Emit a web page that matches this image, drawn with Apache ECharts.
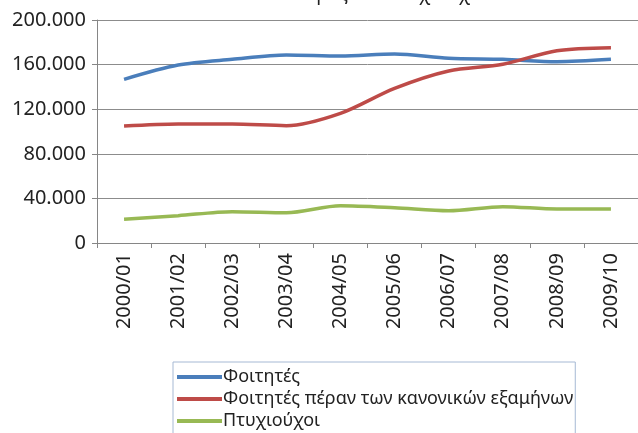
<!DOCTYPE html>
<html>
<head>
<meta charset="utf-8">
<script src="https://cdn.jsdelivr.net/npm/echarts@6/dist/echarts.min.js"></script>
<style>
  html, body { margin: 0; padding: 0; background: #fff; }
  #chart { width: 638px; height: 433px; }
</style>
</head>
<body>
<div id="chart"></div>
<script>
var years = ['2000/01', '2001/02', '2002/03', '2003/04', '2004/05',
             '2005/06', '2006/07', '2007/08', '2008/09', '2009/10'];
var students = [146800, 159600, 164700, 168600, 167700, 169500, 165600, 164700, 162600, 164700];
var overdue = [104900, 106700, 106700, 105200, 116300, 138700, 154300, 160300, 172500, 175200];
var graduates = [21200, 24500, 28100, 27200, 33500, 31700, 29000, 32600, 30500, 30500];
var names = ['Φοιτητές', 'Φοιτητές πέραν των κανονικών εξαμήνων', 'Πτυχιούχοι'];
var colors = ['#4a7ebb', '#be4b48', '#98b954'];

var font = 'Noto Sans';

function makeLine(name, data, color) {
    return {
        name: name,
        type: 'line',
        data: data,
        smooth: 0.3,
        showSymbol: false,
        lineStyle: { width: 3.5, color: color },
        itemStyle: { color: color }
    };
}

var option = {
    animation: false,
    textStyle: { fontFamily: font },
    title: {
        text: 'Φοιτητές και πτυχιούχοι',
        left: 372,
        textAlign: 'center',
        top: -20,
        textStyle: { color: '#222', fontSize: 19, fontWeight: 'normal' }
    },
    legend: {
        orient: 'vertical',
        left: 173,
        top: 362,
        height: 90,
        data: names,
        icon: 'rect',
        itemWidth: 45,
        itemHeight: 4,
        itemGap: 4,
        padding: [6, 2, 10, 4],
        borderColor: '#a6b9d4',
        borderWidth: 1,
        textStyle: { color: '#222', fontSize: 18, padding: [0, 0, 0, -4] }
    },
    grid: {
        left: 97,
        top: 20,
        width: 550,
        height: 223,
        containLabel: false
    },
    xAxis: {
        type: 'category',
        data: years,
        boundaryGap: true,
        axisLine: { lineStyle: { color: '#868686', width: 1 } },
        axisTick: { show: true, length: 5, lineStyle: { color: '#868686' } },
        axisLabel: {
            rotate: 90,
            color: '#222',
            fontSize: 20,
            margin: 10
        }
    },
    yAxis: {
        type: 'value',
        min: 0,
        max: 200000,
        interval: 40000,
        axisLine: { show: true, lineStyle: { color: '#868686' } },
        axisTick: { show: true, length: 5, lineStyle: { color: '#868686' } },
        splitLine: { lineStyle: { color: '#8c8c8c', width: 1 } },
        axisLabel: {
            color: '#222',
            fontSize: 20,
            margin: 11,
            formatter: function (v) {
                if (v === 0) return '0';
                return (v / 1000) + '.000';
            }
        }
    },
    series: [
        makeLine(names[0], students, colors[0]),
        makeLine(names[1], overdue, colors[1]),
        makeLine(names[2], graduates, colors[2])
    ]
};

var myChart = echarts.init(document.getElementById('chart'), null, { renderer: 'canvas' });
myChart.setOption(option);
</script>
</body>
</html>
